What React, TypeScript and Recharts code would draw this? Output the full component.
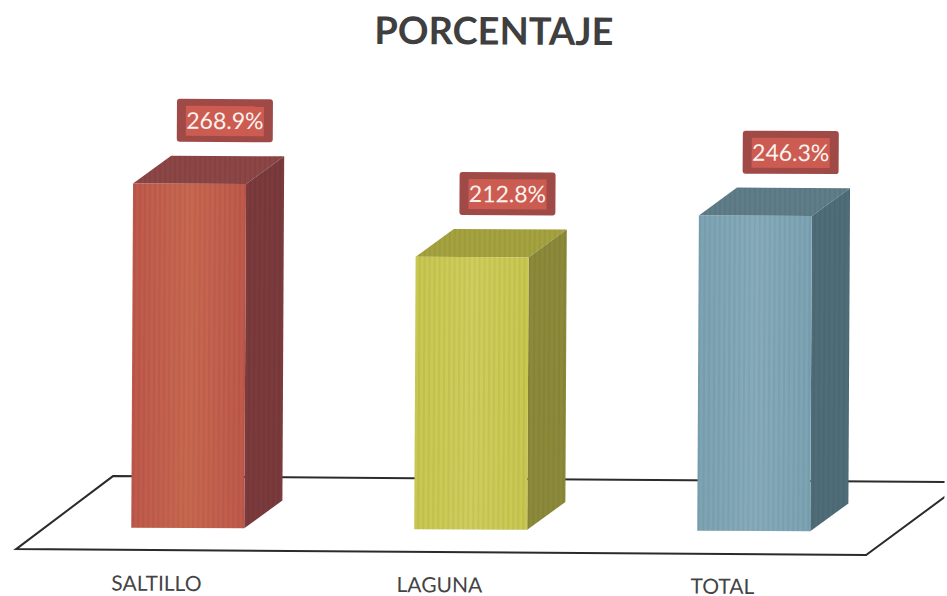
import React from 'react';
import { BarChart, Bar, XAxis, YAxis, LabelList, Customized } from 'recharts';

const categories = ['SALTILLO', 'LAGUNA', 'TOTAL'];
const values = [268.9, 212.8, 246.3];
const chartTitle = 'PORCENTAJE';

const frontColors = ['#bf594b', '#c8c750', '#7ca3b3'];
const frontLightColors = ['#c86850', '#cfce5c', '#86acbb'];
const topColors = ['#8c4645', '#a5a33f', '#5f7d89'];
const sideColors = ['#7b3a3c', '#8c8a3a', '#4f6d79'];

const data = categories.map((name, i) => ({ name, value: values[i] }));

const DEPTH_X = 38;
const DEPTH_Y = 28;

const Bar3D = (props: any) => {
  const { x, y, width, height, index } = props;
  const right = x + width;
  const bottom = y + height;
  const topFace = `${x},${y} ${x + DEPTH_X},${y - DEPTH_Y} ${right + DEPTH_X},${y - DEPTH_Y} ${right},${y}`;
  const sideFace = `${right},${y} ${right + DEPTH_X},${y - DEPTH_Y} ${right + DEPTH_X},${bottom - DEPTH_Y} ${right},${bottom}`;
  return (
    <g>
      <polygon points={topFace} fill={topColors[index]} />
      <polygon points={sideFace} fill={sideColors[index]} />
      <rect x={x} y={y} width={width} height={height} fill={`url(#front${index})`} />
      <polygon points={topFace} fill="url(#scanStripes)" />
      <polygon points={sideFace} fill="url(#scanStripes)" />
      <rect x={x} y={y} width={width} height={height} fill="url(#scanStripes)" />
    </g>
  );
};

const ValueTag = (props: any) => {
  const { x, y, width, value } = props;
  const cx = x + width / 2 + 35;
  const boxBottom = y - 42;
  return (
    <g>
      <rect x={cx - 48} y={boxBottom - 43} width={96} height={43} rx={3} fill="#a04a48" />
      <rect x={cx - 39} y={boxBottom - 36} width={78} height={30} fill="#cc5c52" />
      <text
        x={cx}
        y={boxBottom - 13}
        textAnchor="middle"
        fontFamily="Lato, sans-serif"
        fontSize={23}
        fill="#fbf3ee"
      >
        {`${value}%`}
      </text>
    </g>
  );
};

const CategoryTick = (props: any) => {
  const { x, y, payload } = props;
  return (
    <text x={x - 31} y={y + 55} textAnchor="middle" fontFamily="Lato, sans-serif" fontSize={21} fill="#444">
      {payload.value}
    </text>
  );
};

// floor outline and title, counter-rotated so they land where the scan has them
const Floor = () => (
  <g>
    <polyline
      points="950,490 869,550.5 19,549 115.5,475.5 950,477"
      fill="none"
      stroke="#2b2b2b"
      strokeWidth={2}
    />
    <text
      x={494}
      y={42}
      textAnchor="middle"
      fontFamily="Lato, sans-serif"
      fontWeight={700}
      fontSize={38}
      fill="#3f3f3f"
    >
      {chartTitle}
    </text>
  </g>
);

export default function App() {
  return (
    <div style={{ position: 'fixed', left: 0, top: 0, width: 947, height: 596, overflow: 'hidden', background: '#fff' }}>
      <div style={{ width: 947, height: 596, transform: 'rotate(0.3deg)', transformOrigin: '0 0' }}>
        <BarChart
          width={947}
          height={596}
          data={data}
          margin={{ top: 143, right: 49, bottom: 0, left: 49 }}
          barCategoryGap={0}
        >
          <defs>
            {categories.map((c, i) => (
              <linearGradient key={c} id={`front${i}`} x1="0" y1="0" x2="1" y2="0">
                <stop offset="0%" stopColor={frontColors[i]} />
                <stop offset="50%" stopColor={frontLightColors[i]} />
                <stop offset="100%" stopColor={frontColors[i]} />
              </linearGradient>
            ))}
            <pattern id="scanStripes" width={5} height={5} patternUnits="userSpaceOnUse">
              <rect x={0} y={0} width={2} height={5} fill="#000" opacity={0.05} />
            </pattern>
          </defs>
          <Customized component={Floor} />
          <XAxis dataKey="name" axisLine={false} tickLine={false} height={69} tick={<CategoryTick />} interval={0} />
          <YAxis hide domain={[0, 300]} />
          <Bar dataKey="value" barSize={113} shape={<Bar3D />} isAnimationActive={false}>
            <LabelList dataKey="value" content={<ValueTag />} />
          </Bar>
        </BarChart>
      </div>
    </div>
  );
}
